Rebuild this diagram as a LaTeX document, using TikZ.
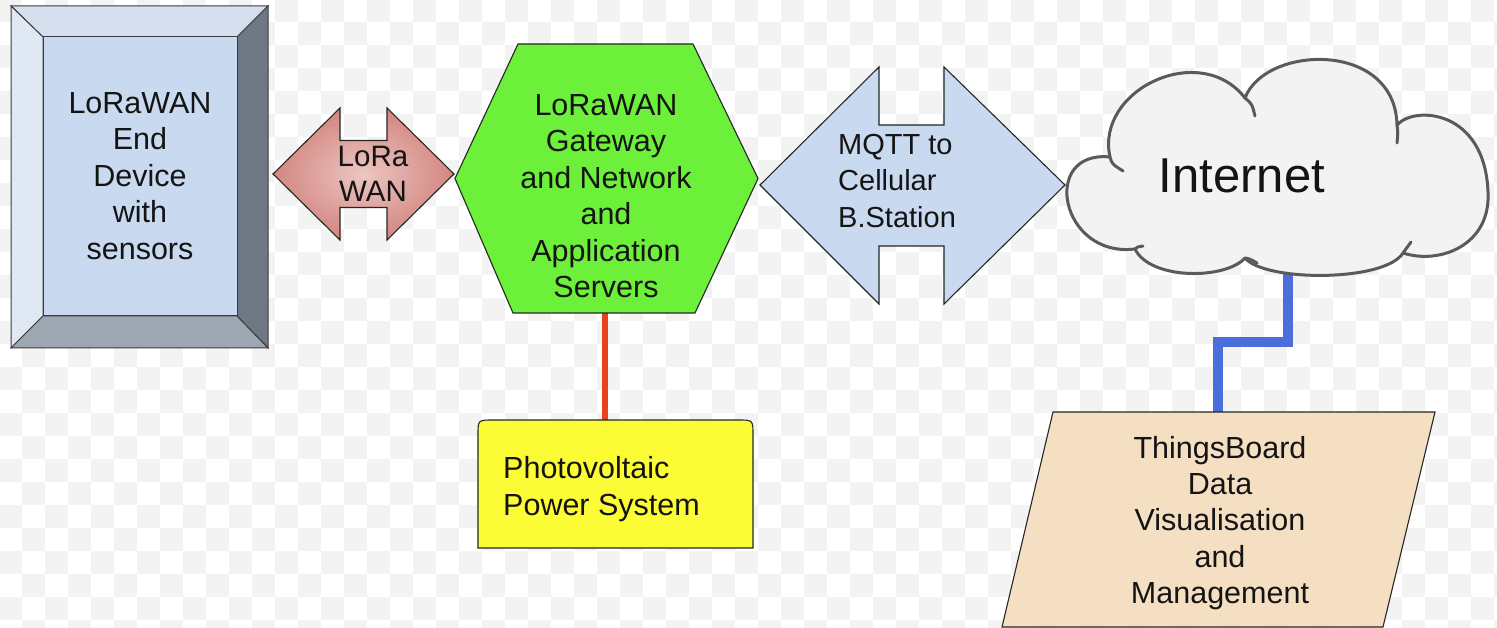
\documentclass[tikz,border=0pt]{standalone}
\usepackage{fontspec}
\setmainfont{Liberation Sans}
\definecolor{checker}{HTML}{F3F3F3}
\definecolor{bevface}{HTML}{C9DAF0}
\definecolor{bevtop}{HTML}{D5DFEE}
\definecolor{bevleft}{HTML}{E0E8F4}
\definecolor{bevright}{HTML}{6D7884}
\definecolor{bevbottom}{HTML}{9DA7B2}
\definecolor{edgegray}{HTML}{3C3C3C}
\definecolor{loraout}{HTML}{D38681}
\definecolor{lorain}{HTML}{ECC6C2}
\definecolor{hexgreen}{HTML}{6CF03A}
\definecolor{mqttblue}{HTML}{C9DAF0}
\definecolor{cloudfill}{HTML}{F3F3F3}
\definecolor{cloudline}{HTML}{5A5A5A}
\definecolor{pvyellow}{HTML}{FCFC36}
\definecolor{tbfill}{HTML}{F5DFC3}
\definecolor{powerred}{HTML}{E5431E}
\definecolor{netblue}{HTML}{4A6FDC}
\begin{document}
\begin{tikzpicture}[x=1pt,y=-1pt,
  outline/.style={draw=black!85, line width=1.1pt, line join=miter},
  bevel/.style={draw=edgegray, line width=1pt, line join=miter},
  label/.style={inner sep=0pt, font=\fontsize{30.5}{36.5}\selectfont, text=black!92},
  redlink/.style={draw=powerred, line width=5.5pt},
  bluelink/.style={draw=netblue, line width=10pt, line join=miter},
  cloudstroke/.style={draw=cloudline, line width=3pt, line cap=round, line join=round}]
\useasboundingbox (0,0) rectangle (1497,628);
\fill[white] (0,0) rectangle (1497,628);
% faint checkerboard backdrop
\foreach \r in {0,...,27}{
  \pgfmathtruncatemacro\off{mod(\r,2)}
  \foreach \c in {0,2,...,66}{
    \fill[checker] ({-1+23*(\c+\off)},{-1+23*\r}) rectangle +(23,23);
  }
}

% ---------- end device (bevelled box) ----------
\coordinate (o1) at (11,6);   \coordinate (o2) at (268,6);
\coordinate (o3) at (268,348);\coordinate (o4) at (11,348);
\coordinate (i1) at (43,37);  \coordinate (i2) at (237,37);
\coordinate (i3) at (237,316);\coordinate (i4) at (43,316);
\filldraw[bevel, fill=bevtop]    (o1) -- (o2) -- (i2) -- (i1) -- cycle;
\filldraw[bevel, fill=bevleft]   (o1) -- (i1) -- (i4) -- (o4) -- cycle;
\filldraw[bevel, fill=bevright]  (o2) -- (o3) -- (i3) -- (i2) -- cycle;
\filldraw[bevel, fill=bevbottom] (o4) -- (i4) -- (i3) -- (o3) -- cycle;
\filldraw[bevel, fill=bevface]   (i1) rectangle (i3);
\node[label, align=center] (dev) at (140,176) {LoRaWAN\\End\\Device\\with\\sensors};

% ---------- LoRa WAN double arrow ----------
\path[shade, inner color=lorain, outer color=loraout, outline]
  (273,174) -- (340,108) -- (340,140.5) -- (387,140.5) -- (387,108) -- (454,174)
  -- (387,240) -- (387,207.5) -- (340,207.5) -- (340,240) -- cycle;
\node[label, font=\fontsize{29.5}{35}\selectfont, align=center] (lora) at (373,174) {LoRa\\WAN};

% ---------- gateway hexagon ----------
\coordinate (gwbot) at (605,313);
\coordinate (pvtop) at (605,420);
\draw[redlink] (gwbot) -- (pvtop);
\filldraw[outline, fill=hexgreen]
  (518,44) -- (693,44) -- (758,178.5) -- (695,313) -- (513,313) -- (455,178.5) -- cycle;
\node[label, align=center] (gw) at (606,196)
  {LoRaWAN\\Gateway\\and Network\\and\\Application\\Servers};

% ---------- photovoltaic supply ----------
\filldraw[outline, fill=pvyellow]
  (478,548) -- (478,435) .. controls (478,420) .. (493,420) -- (738,420)
  .. controls (753,420) .. (753,435) -- (753,548) -- cycle;
\node[label, align=left, anchor=west, font=\fontsize{30.5}{37}\selectfont] (pv) at (503,489)
  {Photovoltaic\\Power System};

% ---------- MQTT double arrow ----------
\filldraw[outline, fill=mqttblue]
  (760,185) -- (879,67) -- (879,125) -- (944,125) -- (944,67) -- (1065,185)
  -- (944,304) -- (944,246) -- (879,246) -- (879,304) -- cycle;
\node[label, align=left, anchor=west, font=\fontsize{29}{36.5}\selectfont] (mqtt) at (838,181)
  {MQTT to\\Cellular\\B.Station};

% ---------- internet cloud ----------
\coordinate (inetbot) at (1288,270);
\coordinate (tbtop) at (1218,412);
\draw[bluelink] (inetbot) -- ++(0,72) -| (tbtop);
% lobe junctions
\coordinate (q0) at (1135,249);
\coordinate (q1) at (1110,157);
\coordinate (q2) at (1245,98);
\coordinate (q3) at (1397,125);
\coordinate (q4) at (1403,253);
\coordinate (q5) at (1245,258);
\filldraw[cloudstroke, fill=cloudfill]
  (q0) .. controls (1060,258) and (1040,150) .. (q1)
  .. controls (1095,90) and (1200,40) .. (q2)
  .. controls (1265,45) and (1395,40) .. (q3)
  .. controls (1415,105) and (1485,110) .. (1488,192)
  .. controls (1491,245) and (1440,265) .. (q4)
  .. controls (1385,282) and (1265,282) .. (q5)
  .. controls (1225,280) and (1150,280) .. (q0) -- cycle;
% small inward curls where the lobes overlap
\draw[cloudstroke] (q1) .. controls (1112,164) .. (1123,171);
\draw[cloudstroke] (q2) .. controls (1252,104) .. (1255,116);
\draw[cloudstroke] (q3) .. controls (1398,133) .. (1397,143);
\draw[cloudstroke] (q4) .. controls (1407,248) .. (1411,242);
\draw[cloudstroke] (q5) .. controls (1250,259) .. (1257,263);
\draw[cloudstroke] (q0) .. controls (1137,247) .. (1143,246);
\node[label, font=\fontsize{49}{55}\selectfont] (inet) at (1242,175.5) {Internet};

% ---------- ThingsBoard parallelogram ----------
\filldraw[outline, fill=tbfill]
  (1053,412) -- (1435,412) -- (1383,627) -- (1002,627) -- cycle;
\node[label, align=center, font=\fontsize{30.5}{36.3}\selectfont] (tb) at (1220,523)
  {ThingsBoard\\Data\\Visualisation\\and\\Management};
\end{tikzpicture}
\end{document}
